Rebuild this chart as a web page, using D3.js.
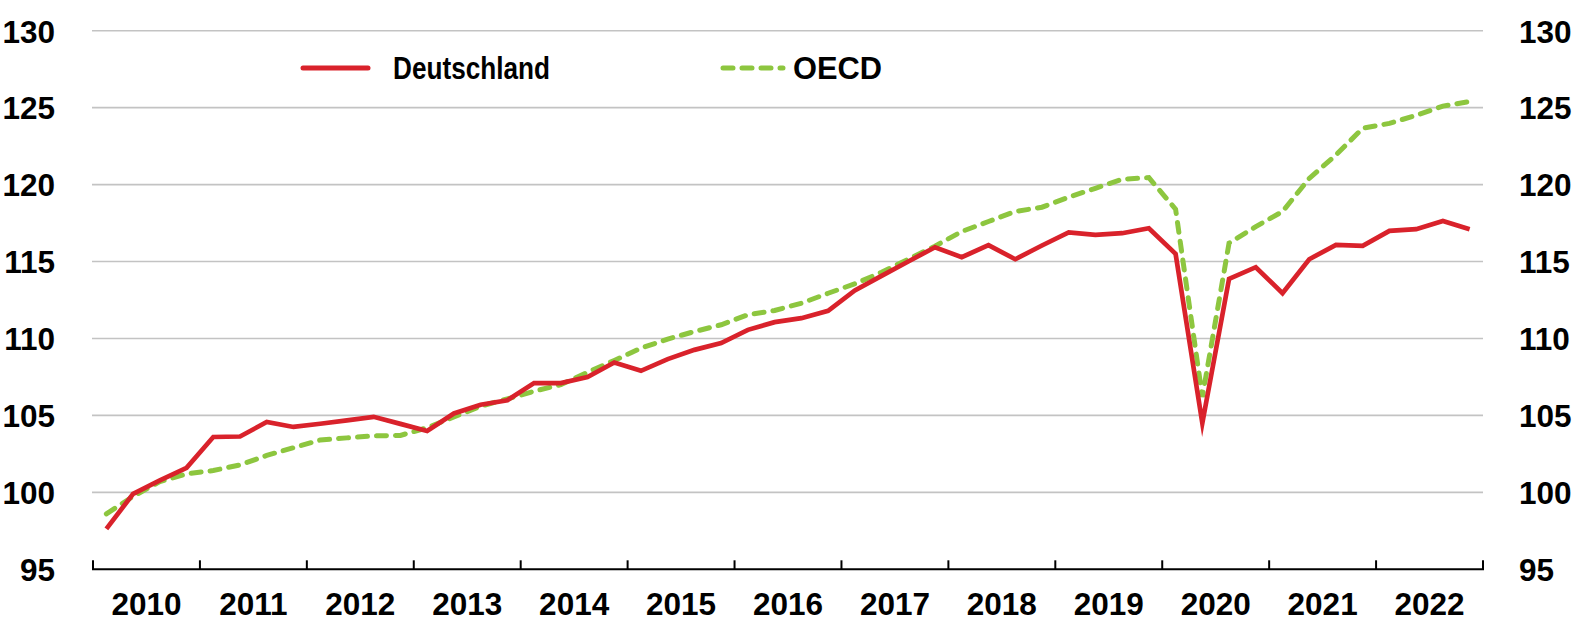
<!DOCTYPE html>
<html>
<head>
<meta charset="utf-8">
<script src="https://cdn.jsdelivr.net/npm/d3@7"></script>
<style>
  html, body { margin: 0; padding: 0; background: #ffffff; }
  svg { display: block; }
  text { font-family: "Liberation Sans", Arial, sans-serif; font-weight: bold; fill: #000; }
</style>
</head>
<body>
<svg id="chart" width="1583" height="623"></svg>
<script>
// ---- data ----
const years = ["2010","2011","2012","2013","2014","2015","2016","2017","2018","2019","2020","2021","2022"];
const quarterNames = ["Q1","Q2","Q3","Q4"];
const yTicks = [95, 100, 105, 110, 115, 120, 125, 130];

const deutschland = [97.63, 99.9, 100.78, 101.59, 103.6, 103.63, 104.57, 104.25,
  104.46, 104.68, 104.91, 104.45, 103.99, 105.13, 105.69, 105.98,
  107.1, 107.1, 107.49, 108.44, 107.9, 108.66, 109.26, 109.7,
  110.56, 111.06, 111.32, 111.8, 113.12, 114.07, 115.0, 115.93,
  115.28, 116.06, 115.15, 116.04, 116.9, 116.73, 116.84, 117.16,
  115.5, 104.5, 113.87, 114.63, 112.94, 115.15, 116.08, 116.02,
  116.99, 117.1, 117.64, 117.1];

const oecd = [98.6, 99.74, 100.7, 101.2, 101.42, 101.78, 102.4, 102.9,
  103.4, 103.54, 103.67, 103.7, 104.2, 104.9, 105.6, 106.07,
  106.57, 107.0, 107.8, 108.57, 109.37, 109.96, 110.45, 110.89,
  111.54, 111.82, 112.29, 112.94, 113.55, 114.3, 115.15, 116.0,
  116.95, 117.6, 118.25, 118.53, 119.18, 119.76, 120.35, 120.45,
  118.4, 106.2, 116.2, 117.27, 118.25, 120.4, 121.93, 123.66,
  123.98, 124.5, 125.1, 125.4];

const seriesNames = ["Deutschland", "OECD"];

// ---- layout ----
const plotLeft = 93, plotRight = 1483, plotTop = 30.7, plotBottom = 569.3;

const quarters = [];
years.forEach(yv => quarterNames.forEach(q => quarters.push(yv + q)));

const svg = d3.select("#chart");

const xq = d3.scaleBand().domain(quarters).range([plotLeft, plotRight]).paddingInner(0).paddingOuter(0);
const xy = d3.scaleBand().domain(years).range([plotLeft, plotRight]);
const yScale = d3.scaleLinear().domain([95, 130]).range([plotBottom, plotTop]);

// gridlines
svg.append("g").selectAll("line").data(yTicks.filter(t => t > 95)).join("line")
  .attr("x1", plotLeft - 1).attr("x2", plotRight)
  .attr("y1", d => yScale(d)).attr("y2", d => yScale(d))
  .attr("stroke", "#c3c3c3").attr("stroke-width", 1.6);

// left axis labels
const yl = d3.axisLeft(yScale).tickValues(yTicks).tickSize(0).tickPadding(0).tickFormat(d3.format("d"));
const gyl = svg.append("g").attr("transform", "translate(55,0)").call(yl);
gyl.select(".domain").remove();
gyl.selectAll("text").attr("font-size", 31.5).attr("font-family", "Liberation Sans, Arial, sans-serif")
  .attr("font-weight", "bold").attr("fill", "#000").attr("dy", "0.36em").attr("x", 0);

// right axis labels
const yr = d3.axisRight(yScale).tickValues(yTicks).tickSize(0).tickPadding(0).tickFormat(d3.format("d"));
const gyr = svg.append("g").attr("transform", "translate(1519,0)").call(yr);
gyr.select(".domain").remove();
gyr.selectAll("text").attr("font-size", 31.5).attr("font-family", "Liberation Sans, Arial, sans-serif")
  .attr("font-weight", "bold").attr("fill", "#000").attr("dy", "0.36em").attr("x", 0);

// x axis line and year boundary ticks
svg.append("line").attr("x1", plotLeft - 1).attr("x2", plotRight + 1)
  .attr("y1", plotBottom).attr("y2", plotBottom).attr("stroke", "#000").attr("stroke-width", 2);
const boundaries = years.map(yv => xy(yv)).concat([plotRight]);
svg.append("g").selectAll("line").data(boundaries).join("line")
  .attr("x1", d => d).attr("x2", d => d)
  .attr("y1", plotBottom).attr("y2", plotBottom - 9)
  .attr("stroke", "#000").attr("stroke-width", 2);

// year labels
const xa = d3.axisBottom(xy).tickSize(0).tickPadding(0);
const gx = svg.append("g").attr("transform", `translate(0,${plotBottom})`).call(xa);
gx.select(".domain").remove();
gx.selectAll("text").attr("font-size", 31.5).attr("font-family", "Liberation Sans, Arial, sans-serif")
  .attr("font-weight", "bold").attr("fill", "#000").attr("dy", null).attr("y", 45.5);

// lines
const line = d3.line().x((d, i) => xq(quarters[i]) + xq.bandwidth() / 2).y(d => yScale(d));

svg.append("path").datum(oecd)
  .attr("fill", "none").attr("stroke", "#8dc63f").attr("stroke-width", 5)
  .attr("stroke-dasharray", "10,9").attr("stroke-linecap", "round")
  .attr("d", line);

svg.append("path").datum(deutschland)
  .attr("fill", "none").attr("stroke", "#d9222b").attr("stroke-width", 4.7)
  .attr("stroke-linejoin", "miter").attr("stroke-miterlimit", 10)
  .attr("d", line);

// legend
const lg = svg.append("g");
lg.append("line").attr("x1", 303).attr("x2", 368).attr("y1", 68).attr("y2", 68)
  .attr("stroke", "#d9222b").attr("stroke-width", 5).attr("stroke-linecap", "round");
lg.append("text").attr("x", 393).attr("y", 68).attr("dy", "0.36em")
  .attr("font-size", 31.5).attr("textLength", 157).attr("lengthAdjust", "spacingAndGlyphs")
  .text(seriesNames[0]);
lg.append("line").attr("x1", 723).attr("x2", 783).attr("y1", 68).attr("y2", 68)
  .attr("stroke", "#8dc63f").attr("stroke-width", 5).attr("stroke-linecap", "round")
  .attr("stroke-dasharray", "10,9");
lg.append("text").attr("x", 793).attr("y", 68).attr("dy", "0.36em")
  .attr("font-size", 31.5).attr("textLength", 89).attr("lengthAdjust", "spacingAndGlyphs")
  .text(seriesNames[1]);
</script>
</body>
</html>
